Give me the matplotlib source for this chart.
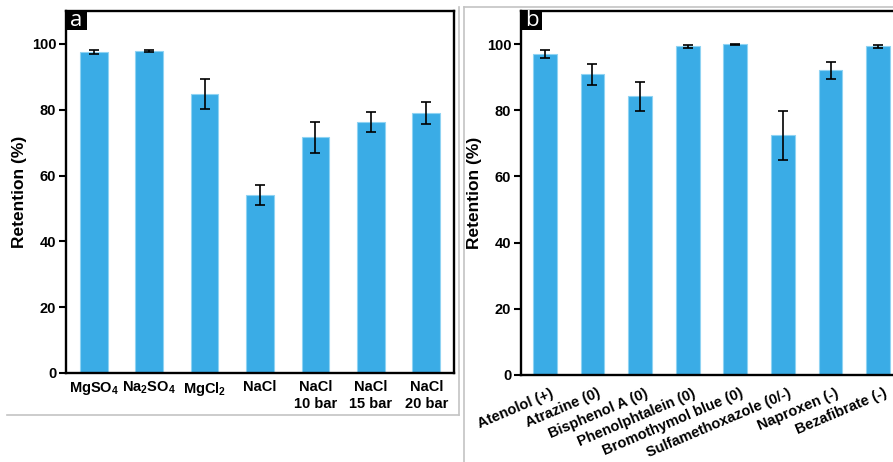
import numpy as np
import matplotlib
matplotlib.use('Agg')
import matplotlib.pyplot as plt
import matplotlib.transforms as mtransforms
from matplotlib.lines import Line2D
from matplotlib.patches import Rectangle

plt.rcParams['font.family'] = ['Liberation Sans', 'DejaVu Sans']
plt.rcParams['font.weight'] = 'bold'
plt.rcParams['mathtext.fontset'] = 'custom'
plt.rcParams['mathtext.bf'] = 'Liberation Sans:bold'
plt.rcParams['mathtext.rm'] = 'Liberation Sans:bold'
plt.rcParams['mathtext.default'] = 'bf'

# --- Data ---
salts = ['MgSO$_4$', 'Na$_2$SO$_4$', 'MgCl$_2$', 'NaCl',
         'NaCl\n10 bar', 'NaCl\n15 bar', 'NaCl\n20 bar']
salt_ret = [97.6, 97.8, 84.8, 54.1, 71.7, 76.4, 79.0]
salt_err = [0.6, 0.2, 4.5, 3.1, 4.7, 3.05, 3.35]

compounds = ['Atenolol (+)', 'Atrazine (0)', 'Bisphenol A (0)', 'Phenolphtalein (0)',
             'Bromothymol blue (0)', 'Sulfamethoxazole (0/-)', 'Naproxen (-)', 'Bezafibrate (-)']
comp_ret = [97.0, 90.9, 84.2, 99.3, 99.9, 72.4, 92.1, 99.3]
comp_err = [1.3, 3.2, 4.3, 0.35, 0.1, 7.4, 2.6, 0.35]

W, H = 893, 462
bar_color = '#3aace6'
edge_color = '#8fd3f3'

fig = plt.figure(figsize=(W / 100, H / 100), dpi=100)

def px_axes(left, top, right, bottom):
    return fig.add_axes([left / W, (H - bottom) / H, (right - left) / W, (bottom - top) / H])

def style(ax, letter):
    for s in ax.spines.values():
        s.set_linewidth(1.7)
        s.set_color('black')
    ax.set_ylim(0, 110)
    ax.set_yticks([0, 20, 40, 60, 80, 100])
    ax.tick_params(axis='y', direction='out', length=5, width=1.5, labelsize=10.5, pad=2)
    ax.tick_params(axis='x', length=0, labelsize=10.5)
    for lab in ax.get_yticklabels():
        lab.set_fontweight('bold')
    ax.set_ylabel('Retention (%)', fontsize=12.5, fontweight='bold')
    # panel letter box
    ax.add_patch(Rectangle((0, 1), 0.055, -0.052, transform=ax.transAxes,
                           facecolor='black', edgecolor='none', clip_on=False, zorder=5))
    ax.text(0.0275, 0.975, letter, transform=ax.transAxes, color='white', ha='center', va='center',
            fontsize=16, fontweight='normal', family='Open Sans', zorder=6)

# --- Panel a ---
ax1 = px_axes(66, 11, 454, 373)
x1 = np.arange(len(salts))
ax1.bar(x1, salt_ret, width=0.5, color=bar_color, edgecolor=edge_color, linewidth=0.8)
ax1.errorbar(x1, salt_ret, yerr=salt_err, fmt='none', ecolor='black', elinewidth=1.2,
             capsize=3.5, capthick=1.2)
ax1.set_xlim(-0.5, 6.5)
ax1.set_xticks(x1)
ax1.set_xticklabels(salts, fontweight='bold', linespacing=1.3)
style(ax1, 'a')
ax1.tick_params(axis='x', pad=5)
ax1.yaxis.set_label_coords(-0.10, 0.5)

# --- Panel b ---
ax2 = px_axes(521, 11, 902, 375)
x2 = np.arange(len(compounds))
ax2.bar(x2, comp_ret, width=0.5, color=bar_color, edgecolor=edge_color, linewidth=0.8)
ax2.errorbar(x2, comp_ret, yerr=comp_err, fmt='none', ecolor='black', elinewidth=1.2,
             capsize=3.5, capthick=1.2)
ax2.set_xlim(-0.5, 7.5)
ax2.set_xticks(x2)
ax2.set_xticklabels(compounds, rotation=23, ha='right', rotation_mode='anchor', fontweight='bold')
style(ax2, 'b')
ax2.yaxis.set_label_coords(-0.102, 0.5)
ax2.tick_params(axis='x', pad=8)
shift = mtransforms.ScaledTranslation(5 / 100, 0, fig.dpi_scale_trans)
for lab in ax2.get_xticklabels():
    lab.set_fontsize(10.5)
    lab.set_transform(lab.get_transform() + shift)

# --- grey panel borders ---
grey = '#c4c4c4'
def fig_line(xs, ys):
    fig.add_artist(Line2D([x / W for x in xs], [(H - y) / H for y in ys], color=grey, linewidth=1.2))

fig_line([7, 459], [415, 415])
fig_line([459, 459], [7, 415])
fig_line([464, 464], [7, H])
fig_line([464, W], [7, 7])

fig.savefig('out.png', dpi=100)
